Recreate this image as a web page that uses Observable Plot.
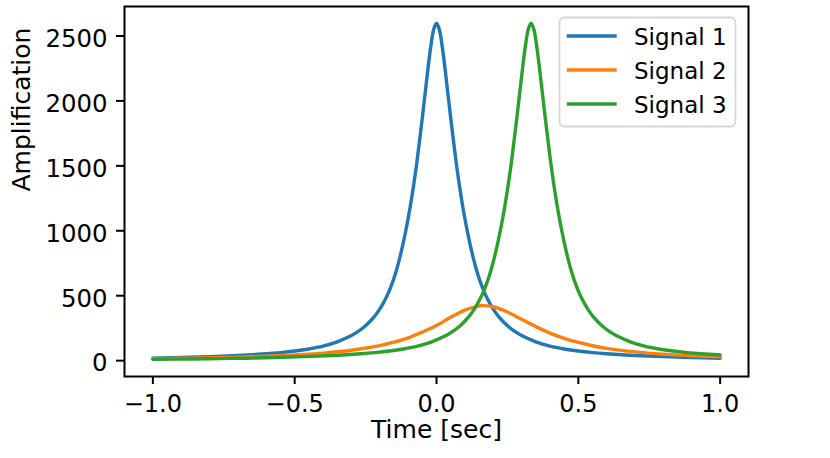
<!DOCTYPE html>
<html><head><meta charset="utf-8">
<script src="https://cdn.jsdelivr.net/npm/d3@7"></script>
<script src="https://cdn.jsdelivr.net/npm/@observablehq/plot@0.6"></script>
<style>body{margin:0;background:#fff} svg{display:block}</style>
</head><body><div id="chart"></div>
<script>
const seriesNames = ["Signal 1", "Signal 2", "Signal 3"];
const seriesColors = ["#1f77b4", "#ff7f0e", "#2ca02c"];

const blueTime = [-1, -0.9, -0.8, -0.7, -0.6, -0.55, -0.5, -0.45, -0.4, -0.35, -0.3, -0.28, -0.25, -0.22, -0.2, -0.19, -0.18, -0.17, -0.16, -0.15, -0.14, -0.13, -0.12, -0.11, -0.1, -0.09, -0.08, -0.07, -0.06, -0.05, -0.04, -0.03, -0.02, -0.01,
  0, 0.01, 0.02, 0.03, 0.04, 0.05, 0.06, 0.07, 0.08, 0.09, 0.1, 0.11, 0.12, 0.13, 0.14, 0.15, 0.16, 0.17, 0.18, 0.19, 0.2, 0.22, 0.25, 0.28, 0.3, 0.35, 0.4, 0.45, 0.5, 0.55, 0.6, 0.7, 0.8, 0.9, 1];
const blueAmp = [19, 24, 31, 40, 53, 62, 74, 90, 112, 145, 193, 219, 269, 337, 397, 433, 474, 520, 574, 635, 706, 788, 880, 983, 1095, 1220, 1360, 1515, 1690, 1870, 2060, 2250, 2420, 2550,
  2598, 2550, 2420, 2250, 2060, 1870, 1690, 1515, 1360, 1220, 1095, 983, 880, 788, 706, 635, 574, 520, 474, 433, 397, 337, 269, 219, 193, 145, 112, 90, 74, 62, 53, 40, 31, 24, 19];

const orangeTime = [-1, -0.9, -0.8, -0.7, -0.6, -0.5, -0.4, -0.3, -0.2, -0.15, -0.1, -0.05, 0, 0.05, 0.1, 0.15, 0.167, 0.2, 0.25, 0.3, 0.35, 0.4, 0.45, 0.5, 0.55, 0.6, 0.7, 0.8, 0.9, 1];
const orangeAmp = [15, 18, 22, 27, 34, 43, 58, 80, 116, 142, 176, 220, 270, 334, 389, 422, 424, 415, 375, 318, 262, 212, 172, 140, 115, 95, 68, 50, 38, 30];

const greenTime = [-1, -0.8667, -0.7667, -0.6667, -0.5667, -0.4667, -0.3667, -0.2667, -0.2167, -0.1667, -0.1167, -0.0667, -0.0167, 0.0333, 0.0533, 0.0833, 0.1133, 0.1333, 0.1433, 0.1533, 0.1633, 0.1733, 0.1833, 0.1933, 0.2033, 0.2133, 0.2233, 0.2333, 0.2433, 0.2533, 0.2633, 0.2733, 0.2833, 0.2933, 0.3033, 0.3133, 0.3233,
  0.3333, 0.3433, 0.3533, 0.3633, 0.3733, 0.3833, 0.3933, 0.4033, 0.4133, 0.4233, 0.4333, 0.4433, 0.4533, 0.4633, 0.4733, 0.4833, 0.4933, 0.5033, 0.5133, 0.5233, 0.5333, 0.5533, 0.5833, 0.6133, 0.6333, 0.6833, 0.7333, 0.7833, 0.8333, 0.8833, 0.9333, 1];
const greenAmp = [11, 13, 16, 19, 24, 31, 40, 53, 62, 74, 90, 112, 145, 193, 219, 269, 337, 397, 433, 474, 520, 574, 635, 706, 788, 880, 983, 1095, 1220, 1360, 1515, 1690, 1870, 2060, 2250, 2420, 2550,
  2598, 2550, 2420, 2250, 2060, 1870, 1690, 1515, 1360, 1220, 1095, 983, 880, 788, 706, 635, 574, 520, 474, 433, 397, 337, 269, 219, 193, 145, 112, 90, 74, 62, 53, 44];

const xTicks = [-1, -0.5, 0, 0.5, 1];
const yTicks = [0, 500, 1000, 1500, 2000, 2500];

const toRows = (t, a) => t.map((v, i) => ({t: v, a: a[i]}));
const series = [toRows(blueTime, blueAmp), toRows(orangeTime, orangeAmp), toRows(greenTime, greenAmp)];
const fmtX = d3.format(".1f");

const plot = Plot.plot({
  width: 830, height: 458,
  marginLeft: 124, marginRight: 82, marginTop: 6, marginBottom: 82,
  style: {fontFamily: "DejaVu Sans", fontSize: "24px", background: "white", color: "black"},
  x: {domain: [-1.1, 1.1]},
  y: {domain: [-122, 2727]},
  marks: [
    ...series.map((rows, i) => Plot.line(rows, {x: "t", y: "a", stroke: seriesColors[i], strokeWidth: 3.4, curve: "catmull-rom"})),
    Plot.frame({stroke: "black", strokeWidth: 2}),
    Plot.axisX({ticks: xTicks, tickFormat: () => "", tickSize: 8, strokeWidth: 2, label: null}),
    Plot.axisY({ticks: yTicks, tickFormat: () => "", tickSize: 8, strokeWidth: 2, label: null}),
    Plot.text(xTicks, {x: d => d, text: d => fmtX(d), frameAnchor: "bottom", lineAnchor: "top", dy: 18.7, fontSize: 24}),
    Plot.text(yTicks, {y: d => d, text: d => String(d), frameAnchor: "left", textAnchor: "end", dx: -17, dy: 3, fontSize: 24.4}),
    Plot.text(["Time [sec]"], {text: d => d, frameAnchor: "bottom", dy: 61, fontSize: 25}),
    Plot.text(["Amplification"], {text: d => d, frameAnchor: "left", dx: -103, rotate: -90, fontSize: 25})
  ]
});

const svg = d3.select(plot);
const lg = svg.append("g");
lg.append("rect").attr("x", 559.5).attr("y", 17.5).attr("width", 176).attr("height", 109).attr("rx", 5)
  .attr("fill", "white").attr("fill-opacity", 0.8).attr("stroke", "#d6d6d6").attr("stroke-width", 1.8);
seriesNames.forEach((n, i) => {
  const y = 36 + i * 34;
  lg.append("line").attr("x1", 566.7).attr("x2", 616.7).attr("y1", y).attr("y2", y)
    .attr("stroke", seriesColors[i]).attr("stroke-width", 3.4);
  lg.append("text").attr("x", 634).attr("y", y + 9).attr("font-size", 23)
    .attr("text-anchor", "start").attr("font-family", "DejaVu Sans").attr("fill", "black").text(n);
});

document.getElementById("chart").appendChild(plot);
</script>
</body></html>
